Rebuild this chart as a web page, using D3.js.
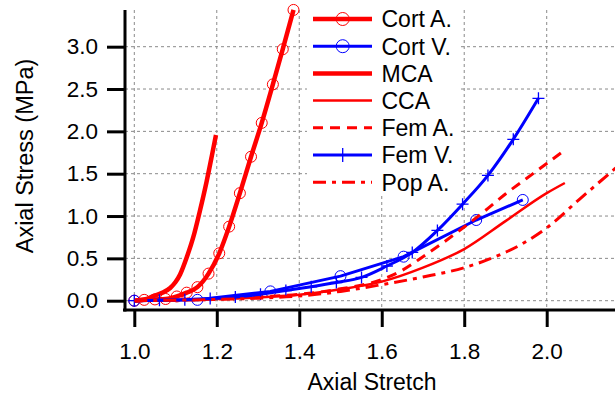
<!DOCTYPE html>
<html><head><meta charset="utf-8">
<script src="https://cdn.jsdelivr.net/npm/d3@7"></script>
<style>
html,body{margin:0;padding:0;background:#fff;}
svg{display:block;font-family:"Liberation Sans",Arial,sans-serif;}
</style></head>
<body>
<svg id="c" width="615" height="396"></svg>
<script>
// ---- data ----
const cortAX = [1.0,1.024,1.05,1.076,1.103,1.127,1.153,1.18,1.206,1.23,1.256,1.283,1.309,1.336,1.36,1.386];
const cortAY = [0,0.01,0.015,0.02,0.05,0.095,0.16,0.32,0.56,0.875,1.27,1.70,2.10,2.555,2.97,3.434];
const cortVX = [1.0,1.153,1.33,1.5,1.653,1.829,1.942];
const cortVY = [0,0.01,0.11,0.29,0.52,0.953,1.19];
const mcaX = [1.0,1.03,1.046,1.066,1.087,1.1,1.111,1.127,1.143,1.159,1.175,1.188,1.198];
const mcaY = [0,0.02,0.055,0.09,0.15,0.22,0.31,0.51,0.75,1.06,1.40,1.71,1.957];
const ccaX = [1.0,1.1,1.2,1.3,1.4,1.5,1.6,1.7,1.8,1.9,2.0,2.044];
const ccaY = [0,0.007,0.02,0.04,0.07,0.135,0.225,0.39,0.61,0.94,1.27,1.39];
const femAX = [1.0,1.1,1.2,1.3,1.4,1.5,1.6,1.65,1.7,1.75,1.8,1.85,1.9,1.95,2.0,2.044];
const femAY = [0,0.007,0.02,0.045,0.075,0.14,0.25,0.36,0.52,0.69,0.87,1.06,1.26,1.44,1.62,1.78];
const femVX = [1.0,1.061,1.1225,1.184,1.245,1.306,1.3675,1.429,1.49,1.551,1.6125,1.674,1.735,1.796,1.8575,1.919,1.98];
const femVY = [0,0.004,0.012,0.025,0.045,0.075,0.12,0.165,0.215,0.275,0.41,0.57,0.83,1.14,1.48,1.906,2.39];
const popAX = [1.0,1.1,1.2,1.3,1.4,1.5,1.6,1.7,1.8,1.86,1.94,2.0,2.08,2.18];
const popAY = [0,0.006,0.015,0.03,0.055,0.11,0.19,0.28,0.39,0.49,0.67,0.86,1.20,1.62];
const xTicks = [1.0,1.2,1.4,1.6,1.8,2.0];
const yTicks = [0.0,0.5,1.0,1.5,2.0,2.5,3.0];
const legendLabels = ["Cort A.","Cort V.","MCA","CCA","Fem A.","Fem V.","Pop A."];

// ---- series styling ----
const zip = (xs, ys) => xs.map((x,i)=>[x, ys[i]]);
const series = [
  {name:legendLabels[0], pts:zip(cortAX,cortAY), color:"#ff0000", w:4.5, dash:null, marker:"circle", curve:d3.curveMonotoneX},
  {name:legendLabels[1], pts:zip(cortVX,cortVY), color:"#0000ff", w:3, dash:null, marker:"circle", curve:d3.curveLinear},
  {name:legendLabels[2], pts:zip(mcaX,mcaY), color:"#ff0000", w:4.5, dash:null, marker:null, curve:d3.curveMonotoneX},
  {name:legendLabels[3], pts:zip(ccaX,ccaY), color:"#ff0000", w:2.5, dash:null, marker:null, curve:d3.curveMonotoneX},
  {name:legendLabels[4], pts:zip(femAX,femAY), color:"#ff0000", w:3, dash:"10,7", marker:null, curve:d3.curveMonotoneX},
  {name:legendLabels[5], pts:zip(femVX,femVY), color:"#0000ff", w:3, dash:null, marker:"plus", curve:d3.curveMonotoneX},
  {name:legendLabels[6], pts:zip(popAX,popAY), color:"#ff0000", w:3, dash:"13,6,4,6", marker:null, curve:d3.curveMonotoneX}
];

const L = 125, R = 615, T = 10, B = 310;
const x = d3.scaleLinear().domain([0.97745, 2.1656]).range([L, R]);
const y = d3.scaleLinear().domain([-0.1098, 3.4333]).range([B, T]);

const svg = d3.select("#c");

// grid
const grid = svg.append("g");
grid.selectAll("line.v").data(xTicks).join("line")
  .attr("x1", d=>x(d)).attr("x2", d=>x(d)).attr("y1", T).attr("y2", B)
  .attr("stroke","#8a8a8a").attr("stroke-width",1).attr("stroke-dasharray","3,3");
grid.selectAll("line.h").data(yTicks).join("line")
  .attr("x1", L).attr("x2", R).attr("y1", d=>y(d)).attr("y2", d=>y(d))
  .attr("stroke","#8a8a8a").attr("stroke-width",1).attr("stroke-dasharray","3,3");

// lines
const lines = svg.append("g");
series.forEach(s=>{
  const gen = d3.line().x(d=>x(d[0])).y(d=>y(d[1])).curve(s.curve);
  lines.append("path").attr("d", gen(s.pts)).attr("fill","none")
    .attr("stroke", s.color).attr("stroke-width", s.w)
    .attr("stroke-dasharray", s.dash).attr("stroke-linejoin","round");
  if (s.marker === "circle") {
    lines.selectAll(null).data(s.pts).join("circle")
      .attr("cx", d=>x(d[0])).attr("cy", d=>y(d[1])).attr("r", 5.5)
      .attr("fill","none").attr("stroke", s.color).attr("stroke-width", 1);
  } else if (s.marker === "plus") {
    lines.selectAll(null).data(s.pts).join("path")
      .attr("d", d=>{const cx=x(d[0]), cy=y(d[1]); return `M${cx-6},${cy}H${cx+6}M${cx},${cy-6}V${cy+6}`;})
      .attr("stroke", s.color).attr("stroke-width", 1.3);
  }
});

// axes
const yAxis = d3.axisLeft(y).tickValues(yTicks).tickFormat(d3.format(".1f")).tickSize(18).tickSizeOuter(0).tickPadding(9);
const gy = svg.append("g").attr("transform", `translate(${L},0)`).call(yAxis);
const xAxis = d3.axisBottom(x).tickValues(xTicks).tickFormat(d3.format(".1f")).tickSize(17).tickSizeOuter(0).tickPadding(16);
const gx = svg.append("g").attr("transform", `translate(0,${B})`).call(xAxis);
[gx, gy].forEach(g=>{
  g.select(".domain").attr("stroke","#000").attr("stroke-width",3);
  g.selectAll(".tick line").attr("stroke","#000").attr("stroke-width",3);
  g.selectAll(".tick text").attr("fill","#000").attr("font-size",22.5).attr("font-family","Liberation Sans, Arial, sans-serif");
});
gx.select(".domain").attr("d", `M${L-2},0H${R}`);
gy.select(".domain").attr("d", `M0,${T}V${B+1.5}`);

// axis titles
svg.append("text").attr("x", 372).attr("y", 390).attr("text-anchor","middle")
  .attr("font-size",23).text("Axial Stretch");
svg.append("text").attr("transform","translate(33,156) rotate(-90)").attr("text-anchor","middle")
  .attr("font-size",23.5).text("Axial Stress (MPa)");

// legend
const lg = svg.append("g");
lg.append("rect").attr("x",307).attr("y",4).attr("width",153).attr("height",192).attr("fill","#fff");
series.forEach((s,i)=>{
  const cy = 19 + i*27.2;
  lg.append("line").attr("x1",313).attr("x2",372).attr("y1",cy).attr("y2",cy)
    .attr("stroke",s.color).attr("stroke-width",s.w).attr("stroke-dasharray",s.dash);
  if (s.marker==="circle") {
    lg.append("circle").attr("cx",342.7).attr("cy",cy).attr("r",6.5).attr("fill","none").attr("stroke",s.color).attr("stroke-width",1);
  } else if (s.marker==="plus") {
    lg.append("path").attr("d",`M${342.7-6},${cy}H${342.7+6}M342.7,${cy-7}V${cy+7}`).attr("stroke",s.color).attr("stroke-width",1.3);
  }
  lg.append("text").attr("x",381.5).attr("y",cy+8.3).attr("font-size",23).attr("fill","#000").text(s.name);
});
</script>
</body></html>
